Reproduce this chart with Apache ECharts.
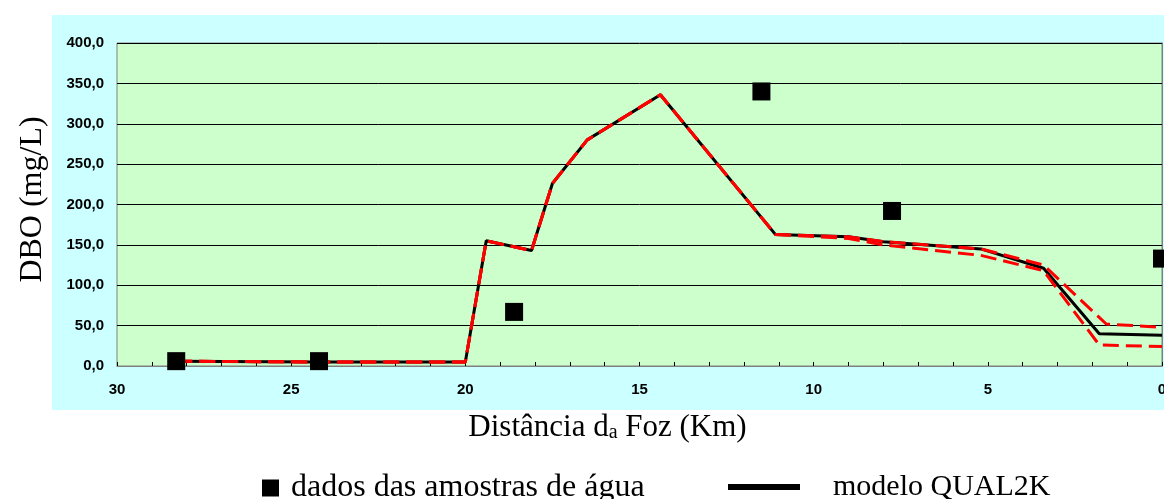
<!DOCTYPE html>
<html><head><meta charset="utf-8">
<script src="https://cdn.jsdelivr.net/npm/echarts@6/dist/echarts.min.js"></script>
<style>html,body{margin:0;padding:0;background:#fff;}#c{width:1164px;height:499px;}</style>
</head><body><div id="c"></div>
<script>
// Distance from river mouth (km) and BOD (mg/L)
const sampleKm   = [28.3, 24.2, 18.6, 11.5, 7.75, 0.0];
const sampleDBO  = [6, 6, 67, 340, 192, 133];

const modelKm    = [28.3, 24.2, 20.0, 19.4, 18.1, 17.5, 16.5, 14.4, 11.1, 9.0, 8.0, 5.2, 3.4, 1.8, 0.0];
const modelDBO   = [6, 5, 5, 155, 143, 226, 280, 336, 163, 160, 154, 145, 121, 40, 38];

const upperKm    = [28.3, 24.2, 20.0, 19.4, 18.1, 17.5, 16.5, 14.4, 11.1, 9.0, 8.0, 5.2, 3.4, 1.6, 0.0];
const upperDBO   = [6, 5, 5, 155, 143, 226, 280, 336, 163, 160, 154, 145, 125, 52, 48];

const lowerKm    = [28.3, 24.2, 20.0, 19.4, 18.1, 17.5, 16.5, 14.4, 11.1, 9.0, 8.0, 5.2, 3.4, 1.8, 0.0];
const lowerDBO   = [6, 5, 5, 155, 143, 226, 280, 336, 163, 158, 150, 137, 118, 26, 24];

const xTicks = [0, 5, 10, 15, 20, 25, 30];
const yTicks = [0, 50, 100, 150, 200, 250, 300, 350, 400];

const zip = (a, b) => a.map((v, i) => [v, b[i]]);

const chart = echarts.init(document.getElementById('c'));
const serif = 'Liberation Serif';
chart.setOption({
  animation: false,
  backgroundColor: '#ffffff',
  graphic: [{
    type: 'rect', z: -10, silent: true,
    shape: { x: 52, y: 15, width: 1200, height: 395 },
    style: { fill: '#CCFFFF' }
  }],
  grid: {
    left: 117, right: 2, top: 43, bottom: 133,
    outerBoundsMode: 'none', containLabel: false,
    show: true, backgroundColor: '#CCFFCC', borderColor: '#808080', borderWidth: 1
  },
  legend: [{
    left: 262, top: 472, padding: 0, itemWidth: 17, itemHeight: 17,
    icon: 'rect',
    data: ['dados das amostras de água'],
    textStyle: { fontFamily: serif, fontSize: 32, color: '#000', padding: [0, 0, 0, 7] }
  }, {
    left: 728, top: 472, padding: 0, itemWidth: 72, itemHeight: 6,
    icon: 'rect',
    data: ['modelo QUAL2K'],
    textStyle: { fontFamily: serif, fontSize: 30, color: '#000', padding: [0, 0, 0, 28] }
  }],
  xAxis: {
    type: 'value', inverse: true, min: xTicks[0], max: xTicks[xTicks.length - 1], interval: 5,
    name: '{n|Distância d}{s|a}{n| Foz (Km)}',
    nameLocation: 'middle', nameGap: 43,
    nameTextStyle: {
      padding: [0, 64, 0, 0],
      rich: {
        n: { fontFamily: serif, fontSize: 31, color: '#000', lineHeight: 34, verticalAlign: 'bottom' },
        s: { fontFamily: serif, fontSize: 20, color: '#000', lineHeight: 34, verticalAlign: 'bottom' }
      }
    },
    axisLine: { show: true, lineStyle: { color: '#808080', width: 1 } },
    axisTick: { show: true, inside: true, length: 4, lineStyle: { color: '#000' } },
    minorTick: { show: true, splitNumber: 5, length: 4, lineStyle: { color: '#000' } },
    splitLine: { show: false },
    axisLabel: { fontFamily: 'Liberation Sans', fontWeight: 'bold', fontSize: 15, color: '#000', margin: 16 }
  },
  yAxis: {
    type: 'value', min: yTicks[0], max: yTicks[yTicks.length - 1], interval: 50,
    name: 'DBO (mg/L)', nameLocation: 'middle', nameGap: 68, nameRotate: 90,
    nameTextStyle: { fontFamily: serif, fontSize: 32, color: '#000', padding: [0, 0, 0, 10] },
    axisLine: { show: true, lineStyle: { color: '#808080', width: 1 } },
    axisTick: { show: false },
    splitLine: { show: true, lineStyle: { color: '#000', width: 1 } },
    axisLabel: {
      fontFamily: 'Liberation Sans', fontWeight: 'bold', fontSize: 15, color: '#000', margin: 13,
      formatter: v => v.toFixed(1).replace('.', ',')
    }
  },
  series: [{
    name: 'modelo QUAL2K', type: 'line', data: zip(modelKm, modelDBO),
    showSymbol: false, symbol: 'none', z: 3,
    lineStyle: { color: '#000', width: 3 }, itemStyle: { color: '#000' }
  }, {
    name: 'limite superior', type: 'line', data: zip(upperKm, upperDBO),
    showSymbol: false, symbol: 'none', z: 4,
    lineStyle: { color: '#FF0000', width: 3, type: [16, 7] }
  }, {
    name: 'limite inferior', type: 'line', data: zip(lowerKm, lowerDBO),
    showSymbol: false, symbol: 'none', z: 4,
    lineStyle: { color: '#FF0000', width: 3, type: [16, 7] }
  }, {
    name: 'dados das amostras de água', type: 'scatter', data: zip(sampleKm, sampleDBO),
    symbol: 'rect', symbolSize: 18, z: 5,
    itemStyle: { color: '#000', opacity: 1 }
  }]
});
</script>
</body></html>
